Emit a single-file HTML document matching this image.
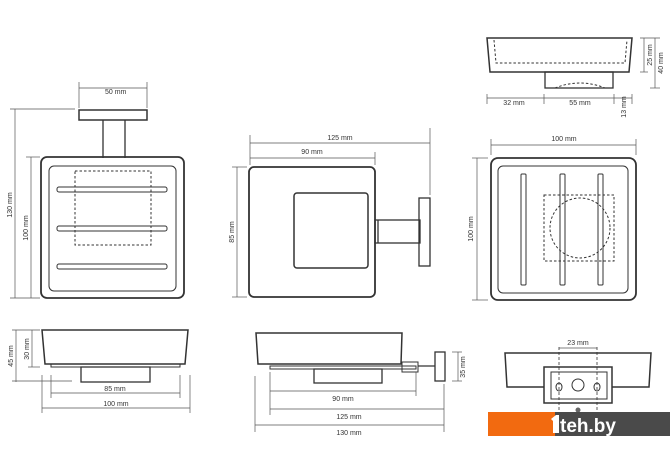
<!DOCTYPE html>
<html><head><style>
html,body{margin:0;padding:0;background:#fff;}
svg{display:block;font-family:"Liberation Sans",sans-serif;}
text{font-size:7px;fill:#333;}
</style></head><body>
<svg width="670" height="471" viewBox="0 0 670 471" xmlns="http://www.w3.org/2000/svg">
<g fill="none" stroke="#333" stroke-width="1.3">
<!-- top-left -->
<rect x="79" y="110" width="68" height="10" stroke-width="1.5"/>
<line x1="103" y1="120" x2="103" y2="158"/><line x1="125" y1="120" x2="125" y2="158"/>
<rect x="41" y="157" width="143" height="141" rx="6" stroke-width="1.8"/>
<rect x="49" y="166" width="127" height="125" rx="5" stroke-width="1"/>
<rect x="75" y="171" width="76" height="74" stroke-dasharray="2.5,2" stroke-width="1"/>
<rect x="57" y="187" width="110" height="5" rx="2" stroke-width="1"/>
<rect x="57" y="226" width="110" height="5" rx="2" stroke-width="1"/>
<rect x="57" y="264" width="110" height="5" rx="2" stroke-width="1"/>
<!-- top-middle -->
<rect x="249" y="167" width="126" height="130" rx="5" stroke-width="1.8"/>
<rect x="294" y="193" width="74" height="75" rx="3" stroke-width="1.5"/>
<rect x="375" y="220" width="45" height="23"/>
<line x1="378" y1="220" x2="378" y2="243"/>
<rect x="419" y="198" width="11" height="68"/>
<!-- top-right side -->
<path d="M487 38 L632 38 L629 72 L490 72 Z" stroke-width="1.5"/>
<path d="M494 40 L496 63 L625 63 L627 40" stroke-dasharray="2.5,2" stroke-width="1"/>
<rect x="545" y="72" width="68" height="16"/>
<path d="M555 88 Q580 78 605 88" stroke-dasharray="2.5,2" stroke-width="1"/>
<!-- top-right plan -->
<rect x="491" y="158" width="145" height="142" rx="7" stroke-width="1.8"/>
<rect x="498" y="166" width="130" height="127" rx="5" stroke-width="1"/>
<rect x="521" y="174" width="5" height="111" rx="1" stroke-width="1"/>
<rect x="560" y="174" width="5" height="111" rx="1" stroke-width="1"/>
<rect x="598" y="174" width="5" height="111" rx="1" stroke-width="1"/>
<rect x="544" y="195" width="70" height="66" stroke-dasharray="2.5,2" stroke-width="1"/>
<circle cx="580" cy="228" r="30" stroke-dasharray="2.5,2" stroke-width="1"/>
<!-- bottom-left -->
<path d="M42 330 L188 330 L185 364 L45 364 Z" stroke-width="1.5"/>
<rect x="51" y="364" width="129" height="3" stroke-width="1"/>
<rect x="81" y="367" width="69" height="15"/>
<!-- bottom-middle -->
<path d="M256 333 L402 333 L401 364 L258 364 Z" stroke-width="1.5"/>
<rect x="270" y="366" width="146" height="3" stroke-width="1"/>
<rect x="314" y="369" width="68" height="14"/>
<rect x="402" y="362" width="16" height="10" stroke-width="1"/>
<line x1="418" y1="366" x2="435" y2="366"/>
<rect x="435" y="352" width="10" height="29"/>
<!-- bottom-right -->
<path d="M505 353 L651 353 L649 387 L507 387 Z" stroke-width="1.5"/>
<rect x="544" y="367" width="68" height="36" stroke-width="1.5" fill="#fff"/>
<rect x="551" y="372" width="56" height="27" stroke-width="1"/>
<ellipse cx="559" cy="387" rx="3" ry="4" stroke-width="1"/>
<circle cx="578" cy="385" r="6" stroke-width="1"/>
<ellipse cx="597" cy="387" rx="3" ry="4" stroke-width="1"/>
<line x1="559" y1="347" x2="559" y2="412" stroke-dasharray="3,2" stroke-width="0.8"/>
<line x1="597" y1="347" x2="597" y2="412" stroke-dasharray="3,2" stroke-width="0.8"/>
</g>
<!-- dimension lines -->
<g stroke="#555" stroke-width="0.7" fill="none">
<line x1="79" y1="88" x2="147" y2="88"/><line x1="79" y1="82" x2="79" y2="108"/><line x1="147" y1="82" x2="147" y2="108"/>
<line x1="15" y1="109" x2="15" y2="298"/><line x1="10" y1="109" x2="75" y2="109"/><line x1="10" y1="298" x2="40" y2="298"/>
<line x1="31" y1="157" x2="31" y2="298"/><line x1="26" y1="157" x2="40" y2="157"/>
<line x1="250" y1="143" x2="430" y2="143"/><line x1="250" y1="135" x2="250" y2="165"/><line x1="430" y1="128" x2="430" y2="195"/>
<line x1="250" y1="158" x2="375" y2="158"/><line x1="375" y1="152" x2="375" y2="165"/>
<line x1="237" y1="167" x2="237" y2="297"/><line x1="232" y1="167" x2="247" y2="167"/><line x1="232" y1="297" x2="247" y2="297"/>
<line x1="644" y1="38" x2="644" y2="72"/><line x1="655" y1="38" x2="655" y2="88"/>
<line x1="640" y1="38" x2="660" y2="38"/><line x1="640" y1="72" x2="648" y2="72"/><line x1="650" y1="88" x2="660" y2="88"/>
<line x1="487" y1="98" x2="632" y2="98"/><line x1="487" y1="94" x2="487" y2="104"/><line x1="544" y1="94" x2="544" y2="104"/><line x1="614" y1="94" x2="614" y2="104"/><line x1="632" y1="94" x2="632" y2="104"/>
<line x1="491" y1="145" x2="636" y2="145"/><line x1="491" y1="139" x2="491" y2="155"/><line x1="636" y1="139" x2="636" y2="155"/>
<line x1="477" y1="158" x2="477" y2="300"/><line x1="472" y1="158" x2="488" y2="158"/><line x1="472" y1="300" x2="488" y2="300"/>
<line x1="16" y1="330" x2="16" y2="382"/><line x1="32" y1="330" x2="32" y2="367"/><line x1="12" y1="330" x2="40" y2="330"/><line x1="28" y1="367" x2="40" y2="367"/><line x1="12" y1="381" x2="72" y2="381"/>
<line x1="51" y1="393" x2="180" y2="393"/><line x1="51" y1="375" x2="51" y2="398"/><line x1="180" y1="375" x2="180" y2="398"/>
<line x1="42" y1="408" x2="190" y2="408"/><line x1="42" y1="375" x2="42" y2="413"/><line x1="190" y1="375" x2="190" y2="413"/>
<line x1="458" y1="352" x2="458" y2="381"/><line x1="452" y1="352" x2="462" y2="352"/><line x1="452" y1="381" x2="462" y2="381"/>
<line x1="270" y1="391" x2="416" y2="391"/><line x1="270" y1="372" x2="270" y2="415"/><line x1="416" y1="372" x2="416" y2="396"/>
<line x1="270" y1="409" x2="444" y2="409"/><line x1="444" y1="384" x2="444" y2="432"/>
<line x1="255" y1="425" x2="444" y2="425"/><line x1="255" y1="376" x2="255" y2="432"/>
<line x1="559" y1="348" x2="597" y2="348"/>
</g>
<text x="105" y="94" >50 mm</text>
<text transform="translate(12,205) rotate(-90)" text-anchor="middle">130 mm</text>
<text transform="translate(28,228) rotate(-90)" text-anchor="middle">100 mm</text>
<text x="340" y="140" text-anchor="middle">125 mm</text>
<text x="312" y="154" text-anchor="middle">90 mm</text>
<text transform="translate(234,232) rotate(-90)" text-anchor="middle">85 mm</text>
<text transform="translate(652,55) rotate(-90)" text-anchor="middle">25 mm</text>
<text transform="translate(663,63) rotate(-90)" text-anchor="middle">40 mm</text>
<text x="514" y="105" text-anchor="middle">32 mm</text>
<text x="580" y="105" text-anchor="middle">55 mm</text>
<text transform="translate(626,107) rotate(-90)" text-anchor="middle">13 mm</text>
<text x="564" y="141" text-anchor="middle">100 mm</text>
<text transform="translate(473,229) rotate(-90)" text-anchor="middle">100 mm</text>
<text transform="translate(13,356) rotate(-90)" text-anchor="middle">45 mm</text>
<text transform="translate(29,349) rotate(-90)" text-anchor="middle">30 mm</text>
<text x="115" y="391" text-anchor="middle">85 mm</text>
<text x="116" y="406" text-anchor="middle">100 mm</text>
<text transform="translate(465,367) rotate(-90)" text-anchor="middle">35 mm</text>
<text x="343" y="401" text-anchor="middle">90 mm</text>
<text x="349" y="419" text-anchor="middle">125 mm</text>
<text x="349" y="435" text-anchor="middle">130 mm</text>
<text x="578" y="345" text-anchor="middle">23 mm</text>
<circle cx="578" cy="410" r="2.5" fill="#666"/>
<!-- logo -->
<rect x="488" y="412" width="67" height="24" fill="#f26a10"/>
<rect x="555" y="412" width="115" height="24" fill="#4a4a4a"/>
<path d="M551 419 L556 415 L559 415 L559 433 L553 433 L553 421 Z" fill="#fff"/>
<text x="560" y="432" style="font-size:19px;fill:#fff;font-weight:bold">teh.by</text>
</svg>
</body></html>
